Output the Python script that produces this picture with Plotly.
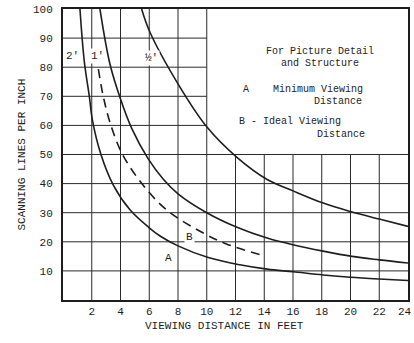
import plotly.graph_objects as go

# viewing distance (ft) vs scanning lines per inch
curve_a_x = [1.18, 1.48, 1.83, 2.04, 2.64, 3.5, 4.66, 6.0, 6.75, 8.0, 10.1, 12.3, 14.2, 16.0, 18.1, 20.0, 22.0, 24.0]
curve_a_y = [100, 82, 70, 62, 50, 39.5, 31, 24.8, 22, 18.6, 14.6, 12.1, 10.6, 9.7, 8.6, 7.8, 7.2, 6.7]

curve_b_x = [2.46, 2.8, 3.27, 4.08, 5.36, 7.2, 9.76, 11.4, 13.8]
curve_b_y = [79.3, 70, 61, 50.6, 40.8, 31, 23, 19.2, 15.5]

curve_mid_x = [2.57, 3.27, 3.97, 4.78, 5.93, 6.98, 8.0, 10.0, 12.1, 14.2, 16.0, 18.1, 20.1, 22.0, 24.0]
curve_mid_y = [100, 81, 69.5, 59, 48.5, 41.5, 36.5, 30, 25, 21.3, 19, 16.8, 15, 13.8, 12.7]

curve_top_x = [5.47, 6.05, 8.02, 10.0, 12.1, 14.2, 16.0, 18.1, 20.0, 22.0, 24.0]
curve_top_y = [100, 92, 74.1, 59.5, 49, 41.4, 37.5, 33.3, 30.4, 27.8, 25.3]

x_ticks = [2, 4, 6, 8, 10, 12, 14, 16, 18, 20, 22, 24]
y_ticks = [10, 20, 30, 40, 50, 60, 70, 80, 90, 100]

# the grid is left out behind the note block (upper right)
note_x0 = 10
note_y0 = 50

FONT = "Liberation Mono"
INK = "#1e1e1e"
GRID = "#2a2a2a"
PW = 345  # plot width in px

fig = go.Figure()

# grid lines
for v in x_ticks[:-1]:
    top = 100 if v <= note_x0 else note_y0
    fig.add_shape(type="line", x0=v, x1=v, y0=0, y1=top, xref="x", yref="y",
                  line=dict(color=GRID, width=1), layer="below")
for v in y_ticks[:-1]:
    right = 24 if v <= note_y0 else note_x0
    fig.add_shape(type="line", x0=0, x1=right, y0=v, y1=v, xref="x", yref="y",
                  line=dict(color=GRID, width=1), layer="below")

for xs, ys in [(curve_a_x, curve_a_y), (curve_mid_x, curve_mid_y), (curve_top_x, curve_top_y)]:
    fig.add_trace(go.Scatter(x=xs, y=ys, mode="lines", line=dict(color=INK, width=1.6, shape="spline"),
                             showlegend=False, hoverinfo="skip"))

fig.add_trace(go.Scatter(x=curve_b_x, y=curve_b_y, mode="lines",
                         line=dict(color=INK, width=1.6, shape="spline", dash="9px,6px"),
                         showlegend=False, hoverinfo="skip"))

# labels on the chart
labels = [
    (0.63, 83.8, "2'"), (2.43, 83.8, "1'"), (6.19, 83.2, "½'"),
    (7.33, 14.6, "A"), (8.83, 21.5, "B"),
]
for x, y, t in labels:
    fig.add_annotation(x=x, y=y, text=t, showarrow=False, bgcolor="white",
                       font=dict(family=FONT, size=11, color=INK))

notes = [
    (320, 44, "For Picture Detail", "center"),
    (320, 56, "and Structure", "center"),
    (241, 82, "A    Minimum Viewing", "left"),
    (338, 94, "Distance", "center"),
    (237, 122, "B - Ideal Viewing", "left"),
    (341, 134, "Distance", "center"),
]
for px, py, t, anchor in notes:
    fig.add_annotation(x=(px - 63) / PW, y=(300 - py) / 291, xref="paper", yref="paper",
                       text=t, showarrow=False, xanchor=anchor,
                       font=dict(family=FONT, size=10, color=INK))

fig.add_annotation(x=(224 - 63) / PW, y=(300 - 334) / 291, xref="paper", yref="paper",
                   text="VIEWING DISTANCE IN FEET", showarrow=False,
                   font=dict(family=FONT, size=11, color=INK))
fig.add_annotation(x=(13 - 63) / PW, y=0.5, xref="paper", yref="paper",
                   text="SCANNING LINES PER INCH", showarrow=False, textangle=-90,
                   font=dict(family=FONT, size=11, color=INK))

# last x tick label sits at the right edge; drawn as an annotation so it stays visible
x_text = [str(v) for v in x_ticks]
fig.add_annotation(x=x_ticks[-1], y=0, xref="x", yref="y", text=x_text[-1], showarrow=False,
                   xanchor="right", yanchor="top", xshift=6, yshift=-4,
                   font=dict(family=FONT, size=11, color=INK))
x_text[-1] = ""

fig.update_xaxes(range=[0, 24], tickvals=x_ticks, ticktext=x_text,
                 showgrid=False, automargin=False,
                 showline=True, linecolor=INK, linewidth=2, mirror=True,
                 zeroline=False, ticks="", tickfont=dict(family=FONT, size=11, color=INK))
fig.update_yaxes(range=[0, 100], tickvals=y_ticks, ticktext=[str(v) for v in y_ticks],
                 showgrid=False, automargin=False, ticklabeloverflow="allow",
                 showline=True, linecolor=INK, linewidth=2, mirror=True,
                 zeroline=False, ticks="", ticklabelstandoff=6,
                 tickfont=dict(family=FONT, size=11, color=INK))

fig.update_layout(
    width=414, height=343,
    margin=dict(l=63, r=414 - 63 - PW, t=9, b=43),
    paper_bgcolor="white", plot_bgcolor="white",
)

# drop the page's default body margin so the figure sits at the window's top-left
fig.write_html("out.html", config={"displayModeBar": False},
               post_script="document.body.style.margin='0';")
